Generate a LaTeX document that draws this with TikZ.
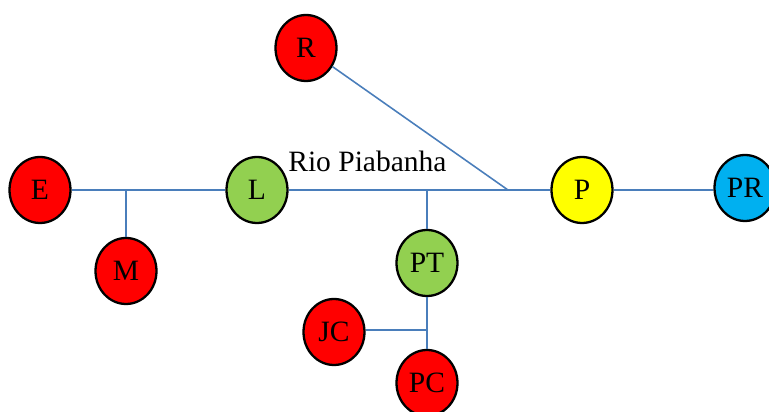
\documentclass[tikz,border=0pt]{standalone}
\usepackage{fontspec}
\setmainfont{Liberation Serif}
\usepackage{tikz}
\usetikzlibrary{shapes.geometric}
\usepackage{xcolor}
\definecolor{cityRed}{RGB}{255, 0, 0}
\definecolor{cityGreen}{RGB}{146, 208, 80}
\definecolor{cityYellow}{RGB}{255, 255, 0}
\definecolor{cityBlue}{RGB}{0, 176, 240}
\definecolor{river}{RGB}{74, 126, 187}

\begin{document}
\begin{tikzpicture}[x=0.02cm, y=-0.02cm, font=\fontsize{16.8}{19}\selectfont,
  city/.style={ellipse, draw=black, line width=1.3pt, minimum width=1.22cm, minimum height=1.32cm, inner sep=0pt},
  flow/.style={draw=river, line width=0.9pt}]
  \useasboundingbox (0, 0) rectangle (769, 412);

  % main course of the river
  \node[city, fill=cityRed] (E) at (40, 190) {E};
  \node[city, fill=cityGreen] (L) at (257, 190) {L};
  \node[city, fill=cityYellow] (P) at (582, 190) {P};
  \node[city, fill=cityBlue] (PR) at (745, 188) {PR};
  \node[anchor=base west, inner sep=0pt] (rio) at (288, 172) {Rio Piabanha};

  % side branches
  \node[city, fill=cityRed] (M) at (126, 271) {M};
  \node[city, fill=cityRed] (R) at (306, 48) {R};
  \node[city, fill=cityGreen] (PT) at (427, 263) {PT};
  \node[city, fill=cityRed] (JC) at (334, 332) {JC};
  \node[city, fill=cityRed] (PC) at (427, 383) {PC};

  \coordinate (jM) at (M |- E);
  \coordinate (jPT) at (PT |- L);
  \coordinate (jR) at (508, 190);
  \coordinate (jJC) at (427, 330);

  \draw[flow] (E) -- (L);
  \draw[flow] (L) -- (P);
  \draw[flow] (P.east) -- (PR.west |- P.east);
  \draw[flow] (M) -- (jM);
  \draw[flow] (R) -- (jR);
  \draw[flow] (PT) -- (jPT);
  \draw[flow] (PT) -- (PC);
  \draw[flow] (JC.east |- jJC) -- (jJC);
\end{tikzpicture}
\end{document}
